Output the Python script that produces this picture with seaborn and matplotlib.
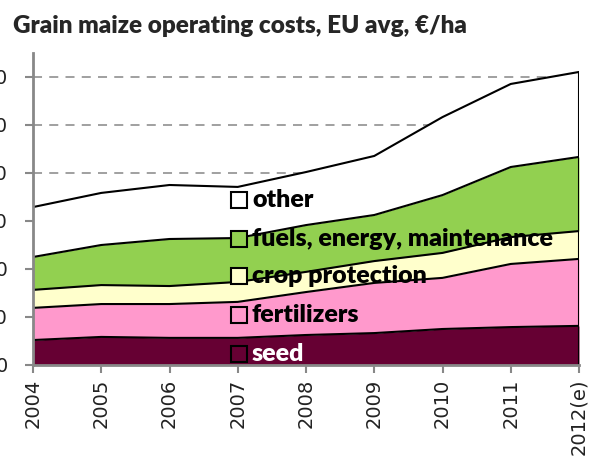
import matplotlib
matplotlib.use("Agg")
import matplotlib.pyplot as plt
import seaborn as sns
import numpy as np

# values (EUR/ha)
years = ["2004", "2005", "2006", "2007", "2008", "2009", "2010", "2011", "2012(e)"]
seed = [104, 117, 113, 113, 125, 133, 150, 158, 163]
fertilizers = [134, 137, 141, 150, 179, 209, 213, 263, 279]
crop_protection = [75, 79, 75, 83, 84, 91, 104, 112, 116]
fuels = [137, 167, 196, 183, 195, 192, 241, 292, 309]
other = [208, 217, 225, 213, 221, 246, 325, 346, 354]

series = ["seed", "fertilizers", "crop protection", "fuels, energy, maintenance", "other"]
colors = ["#660033", "#FF99CC", "#FFFFCC", "#92D050", "#FFFFFF"]
yticks = [0, 200, 400, 600, 800, 1000, 1200]

sns.set_style("white")
plt.rcParams["font.family"] = ["DejaVu Sans"]

fig = plt.figure(figsize=(6.01, 4.66), dpi=100)
ax = fig.add_axes([33 / 601, 1 - 365 / 466, 546 / 601, 312 / 466])

x = np.arange(len(years))
stack = [seed, fertilizers, crop_protection, fuels, other]
ax.stackplot(x, *stack, colors=colors, linewidth=0, zorder=1)

# black boundary lines on top of each layer
tops = np.cumsum(np.array(stack), axis=0)
for top in tops:
    sns.lineplot(x=x, y=top, ax=ax, color="black", linewidth=1.5, zorder=3)
ax.vlines(x[-1], 0, tops[-1][-1], color="black", linewidth=1.5, zorder=3)

ax.set_xlim(0, len(years) - 1)
ax.set_ylim(0, 1300)
ax.set_xticks(x)
ax.set_xticklabels(years, rotation=90, fontsize=14, color="#222222")
ax.set_yticks(yticks)
ax.set_yticklabels([str(v) for v in yticks], fontsize=14, color="#222222")
ax.tick_params(axis="both", direction="out", length=6, width=1.5, color="#888888",
               left=True, bottom=True)
ax.tick_params(axis="y", pad=12)
ax.tick_params(axis="x", pad=4)

ax.set_axisbelow(True)
ax.yaxis.grid(True, linestyle=(0, (5, 4)), color="#999999", linewidth=1.3)
ax.xaxis.grid(False)
for s in ["top", "right"]:
    ax.spines[s].set_visible(False)
for s in ["left", "bottom"]:
    ax.spines[s].set_color("#888888")
    ax.spines[s].set_linewidth(2)
    ax.spines[s].set_zorder(4)

# in-plot legend
leg_y = {"other": 0.529, "fuels, energy, maintenance": 0.404, "crop protection": 0.285,
         "fertilizers": 0.160, "seed": 0.035}
for name, col in zip(series, colors):
    yy = leg_y[name]
    ax.plot([0.377], [yy], marker="s", markersize=11.5, markerfacecolor=col,
            markeredgecolor="black", markeredgewidth=1.5, transform=ax.transAxes,
            zorder=5, clip_on=False)
    ax.text(0.401, yy, name, transform=ax.transAxes, va="center", ha="left",
            fontsize=18, fontweight="heavy", family=["Lato", "DejaVu Sans"],
            color="white" if name == "seed" else "black", zorder=2.5)

fig.text(13 / 601, 1 - 26 / 466, "Grain maize operating costs, EU avg, €/ha",
         fontsize=17.5, fontweight="heavy", family=["Lato", "DejaVu Sans"],
         va="center", ha="left")

fig.savefig("out.png", dpi=100)
